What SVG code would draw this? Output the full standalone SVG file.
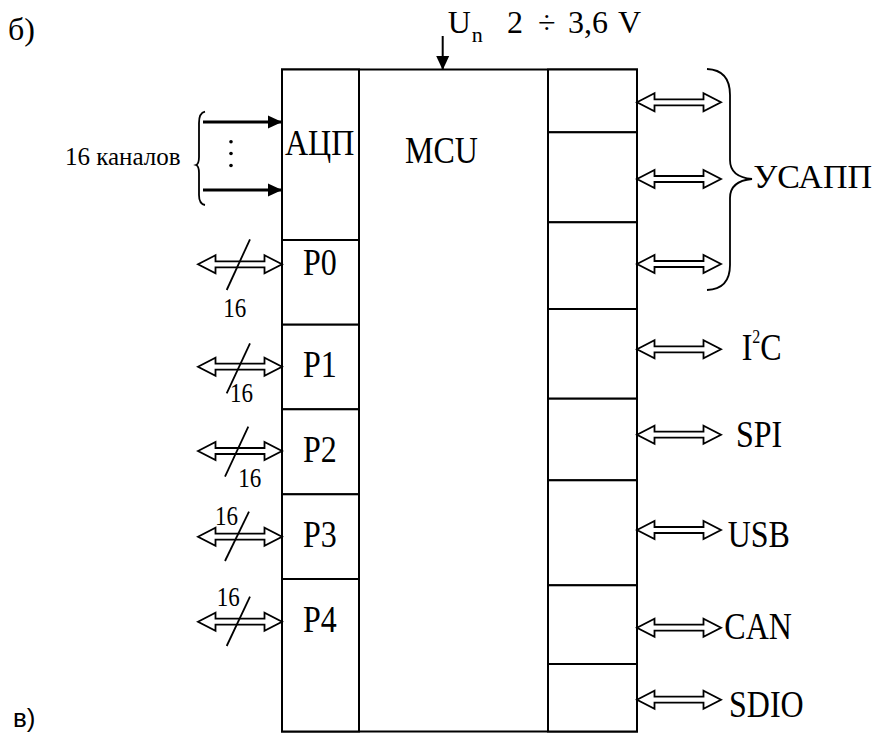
<svg xmlns="http://www.w3.org/2000/svg" xmlns:xlink="http://www.w3.org/1999/xlink" width="877" height="733" viewBox="0 0 877 733">
<style>
  .box { fill: #fff; stroke: #000; stroke-width: 2; }
  .ln { fill: none; stroke: #000; stroke-width: 2; }
  .thick { fill: none; stroke: #000; stroke-width: 3.2; }
  .slash { fill: none; stroke: #000; stroke-width: 1.8; }
  .brace { fill: none; stroke: #000; stroke-width: 1.8; }
  .dbl { fill: #fff; stroke: #000; stroke-width: 1.8; stroke-linejoin: miter; }
  .t { font-family: 'Liberation Serif', 'DejaVu Serif', serif; font-size: 32px; fill: #000; }
  .s { font-family: 'Liberation Serif', 'DejaVu Serif', serif; font-size: 23px; fill: #000; }
  .sans { font-family: 'Liberation Sans', 'DejaVu Sans', sans-serif; font-size: 26px; fill: #000; }
</style>
<defs>
  <path id="dblArrow" class="dbl" d="M0,0 L17.5,-9 L17.5,-3 L66.5,-3 L66.5,-9 L84,0 L66.5,9 L66.5,3 L17.5,3 L17.5,9 Z"/>
  <marker id="solidHead" viewBox="0 0 14 14" refX="14" refY="7" markerWidth="14" markerHeight="14" markerUnits="userSpaceOnUse" orient="auto">
    <path d="M0,0.5 L14,7 L0,13.5 Z" fill="#000"/>
  </marker>
  <marker id="bigHead" viewBox="0 0 14 14" refX="14" refY="7" markerWidth="14" markerHeight="14" markerUnits="userSpaceOnUse" orient="auto">
    <path d="M0,0.5 L14,7 L0,13.5 Z" fill="#000"/>
  </marker>
</defs>

<!-- captions -->
<text class="t" x="8" y="40">б)</text>
<text class="sans" x="13" y="727">в)</text>

<!-- MCU outer block -->
<g id="mcu">
  <rect class="box" x="282" y="69.5" width="355" height="662"/>
  <line class="ln" x1="359" y1="69.5" x2="359" y2="731.5"/>
  <line class="ln" x1="548" y1="69.5" x2="548" y2="731.5"/>
  <text class="t" transform="translate(405,163.3) scale(1,1.18)">MCU</text>
</g>

<!-- left column -->
<g id="adc">
  <rect class="box" x="282" y="69.5" width="77" height="170.5"/>
  <text class="t" transform="translate(285,155) scale(1,1.1)">АЦП</text>
</g>
<g id="p0">
  <rect class="box" x="282" y="240" width="77" height="84.7"/>
  <text class="t" transform="translate(303,275) scale(1,1.18)">P0</text>
</g>
<g id="p1">
  <rect class="box" x="282" y="324.7" width="77" height="84.6"/>
  <text class="t" transform="translate(303,376.7) scale(1,1.18)">P1</text>
</g>
<g id="p2">
  <rect class="box" x="282" y="409.3" width="77" height="85"/>
  <text class="t" transform="translate(303,461.7) scale(1,1.18)">P2</text>
</g>
<g id="p3">
  <rect class="box" x="282" y="494.3" width="77" height="84.7"/>
  <text class="t" transform="translate(303,547.3) scale(1,1.18)">P3</text>
</g>
<g id="p4">
  <rect class="box" x="282" y="579" width="77" height="152.5"/>
  <text class="t" transform="translate(303,632.3) scale(1,1.18)">P4</text>
</g>

<!-- right column -->
<g id="r1"><rect class="box" x="548" y="69.5" width="89" height="62.8"/></g>
<g id="r2"><rect class="box" x="548" y="132.3" width="89" height="90"/></g>
<g id="r3"><rect class="box" x="548" y="222.3" width="89" height="86.7"/></g>
<g id="r4"><rect class="box" x="548" y="309" width="89" height="89.7"/></g>
<g id="r5"><rect class="box" x="548" y="398.7" width="89" height="81.6"/></g>
<g id="r6"><rect class="box" x="548" y="480.3" width="89" height="105"/></g>
<g id="r7"><rect class="box" x="548" y="585.3" width="89" height="78.7"/></g>
<g id="r8"><rect class="box" x="548" y="664" width="89" height="67.5"/></g>

<!-- connectors -->
<g id="connectors">
  <!-- supply -->
  <line class="ln" x1="442.7" y1="36" x2="442.7" y2="70" marker-end="url(#bigHead)"/>
  <!-- ADC inputs -->
  <line class="thick" x1="203" y1="122" x2="282" y2="122" marker-end="url(#solidHead)"/>
  <line class="thick" x1="203" y1="190" x2="282" y2="190" marker-end="url(#solidHead)"/>
  <!-- left port buses -->
  <use xlink:href="#dblArrow" x="198" y="264.3"/>
  <use xlink:href="#dblArrow" x="198" y="366.7"/>
  <use xlink:href="#dblArrow" x="198" y="451"/>
  <use xlink:href="#dblArrow" x="198" y="536.7"/>
  <use xlink:href="#dblArrow" x="198" y="621.7"/>
  <line class="slash" x1="226.7" y1="290" x2="250" y2="239.3"/>
  <line class="slash" x1="226.7" y1="393.3" x2="250" y2="343.3"/>
  <line class="slash" x1="225" y1="476.7" x2="248.3" y2="426.7"/>
  <line class="slash" x1="225" y1="561" x2="249" y2="511.7"/>
  <line class="slash" x1="226.7" y1="646" x2="250" y2="596.7"/>
  <!-- right interface buses -->
  <use xlink:href="#dblArrow" x="637" y="102.3"/>
  <use xlink:href="#dblArrow" x="637" y="179"/>
  <use xlink:href="#dblArrow" x="637" y="264"/>
  <use xlink:href="#dblArrow" x="637" y="349.3"/>
  <use xlink:href="#dblArrow" x="637" y="434.7"/>
  <use xlink:href="#dblArrow" x="637" y="530"/>
  <use xlink:href="#dblArrow" x="637" y="627.7"/>
  <use xlink:href="#dblArrow" x="637" y="699.7"/>
  <!-- braces -->
  <path class="brace" d="M205,111.7 Q199,113 199,123 L199,157 Q199,164 196,165 Q199,166 199,173 L199,195 Q199,204 205,205"/>
  <path class="brace" d="M707,69 Q730,70 730,95 L730,160 Q730,177 752,179 Q730,181 730,198 L730,265 Q730,289 707,290"/>
</g>

<!-- labels -->
<g id="labels">
  <text class="t" x="447.7" y="33.3">U</text>
  <text class="t" x="471.7" y="41.7" style="font-size:22px">n</text>
  <text class="t" y="33.3"><tspan x="507">2</tspan><tspan x="538">÷</tspan><tspan x="568">3,6</tspan><tspan x="618">V</tspan></text>

  <text class="s" x="65" y="165" style="font-size:25px">16 каналов</text>
  <circle cx="231" cy="141.7" r="1.8" fill="#000"/>
  <circle cx="231" cy="153.5" r="1.8" fill="#000"/>
  <circle cx="231" cy="165.5" r="1.8" fill="#000"/>

  <text class="s" transform="translate(223.3,316.7) scale(1,1.15)">16</text>
  <text class="s" transform="translate(230,401.7) scale(1,1.15)">16</text>
  <text class="s" transform="translate(238.3,486.7) scale(1,1.15)">16</text>
  <text class="s" transform="translate(215,525) scale(1,1.15)">16</text>
  <text class="s" transform="translate(216.7,606) scale(1,1.15)">16</text>

  <text class="t" x="753.3" y="188.3" style="font-size:34px">УСАПП</text>
  <text class="t" transform="translate(741.7,360) scale(1,1.18)">I<tspan style="font-size:16px" dy="-14">2</tspan><tspan dy="14">C</tspan></text>
  <text class="t" transform="translate(736,446.7) scale(1,1.18)">SPI</text>
  <text class="t" transform="translate(727.7,546.7) scale(1,1.18)">USB</text>
  <text class="t" transform="translate(724.3,639) scale(1,1.18)">CAN</text>
  <text class="t" transform="translate(729,716.7) scale(1,1.18)">SDIO</text>
</g>
</svg>
